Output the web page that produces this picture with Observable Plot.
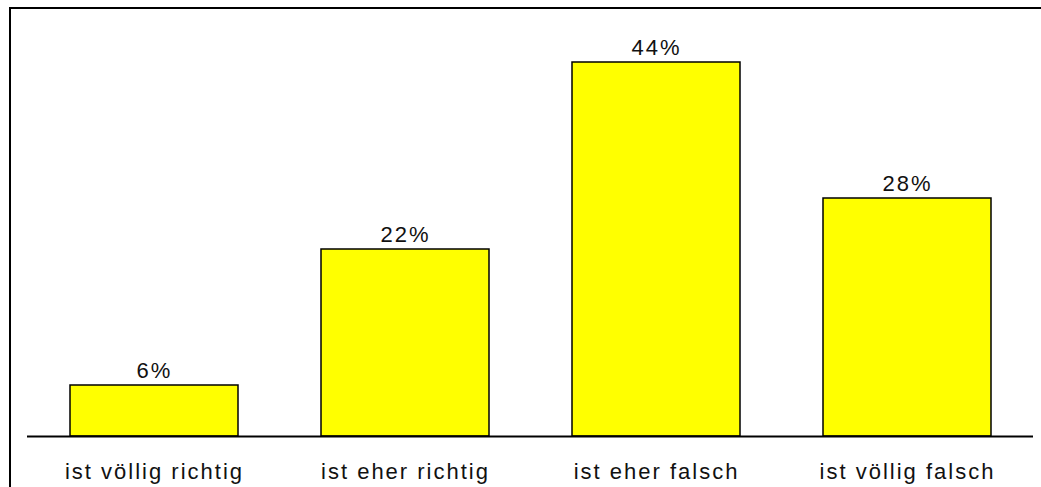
<!DOCTYPE html>
<html>
<head>
<meta charset="utf-8">
<script src="https://cdn.jsdelivr.net/npm/d3@7"></script>
<script src="https://cdn.jsdelivr.net/npm/@observablehq/plot@0.6"></script>
<style>
  html, body { margin: 0; padding: 0; background: #fff; }
  #wrap { position: relative; width: 1041px; height: 487px; overflow: hidden; }
  #frame { position: absolute; left: 9px; top: 7px; right: -10px; bottom: -10px;
           border-left: 2px solid #000; border-top: 2px solid #000; box-sizing: border-box; }
  #chart { position: absolute; left: 0; top: 0; }
  #chart svg text { letter-spacing: 2px; }
</style>
</head>
<body>
<div id="wrap"><div id="frame"></div><div id="chart"></div></div>
<script>
const categories = ["ist völlig richtig", "ist eher richtig", "ist eher falsch", "ist völlig falsch"];
const values = [6, 22, 44, 28];
const labels = ["6%", "22%", "44%", "28%"];

const data = categories.map((c, i) => ({category: c, value: values[i], label: labels[i]}));

const chart = Plot.plot({
  width: 1041,
  height: 487,
  marginLeft: 27,
  marginRight: 8,
  marginTop: 11,
  marginBottom: 51,
  style: {fontFamily: "'Liberation Sans', Arial, sans-serif", fontSize: "22px", color: "#111", background: "transparent"},
  x: {domain: categories, paddingInner: 0.332, paddingOuter: 0.166, label: null},
  y: {domain: [0, 50], axis: null},
  marks: [
    Plot.barY(data, {x: "category", y: "value", fill: "#ffff00", stroke: "#000", strokeWidth: 1.5}),
    Plot.ruleY([0], {stroke: "#000", strokeWidth: 2}),
    Plot.text(data, {x: "category", y: "value", text: "label", lineAnchor: "bottom", dy: -8, fontSize: 22, fill: "#111"}),
    Plot.axisX({tickSize: 0, tickPadding: 27, fontSize: 22, label: null})
  ]
});
document.getElementById("chart").appendChild(chart);
</script>
</body>
</html>
